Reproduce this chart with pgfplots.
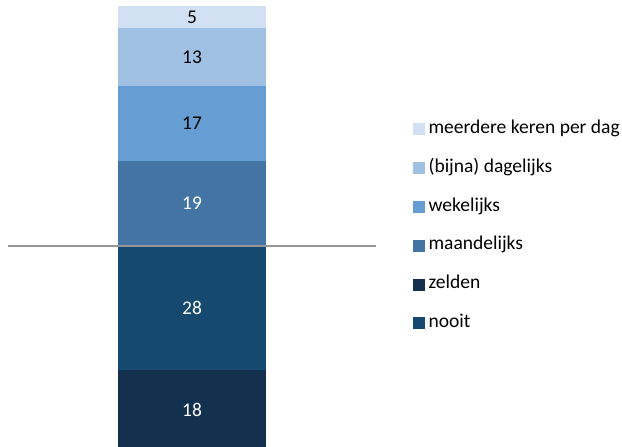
\documentclass[border=0pt]{standalone}
\usepackage{fontspec}
\setmainfont{Carlito}
\usepackage{pgfplots}
\pgfplotsset{compat=1.18}
\definecolor{cMeer}{RGB}{209,224,242}
\definecolor{cBijna}{RGB}{160,192,228}
\definecolor{cWeek}{RGB}{102,158,212}
\definecolor{cMaand}{RGB}{68,116,163}
\definecolor{cNooit}{RGB}{21,73,111}
\definecolor{cZelden}{RGB}{19,48,78}
\begin{document}
\begin{tikzpicture}
\useasboundingbox (0,0) rectangle (622bp,447bp);
\begin{axis}[
  at={(8bp,0bp)}, anchor=south west,
  scale only axis, width=368bp, height=441bp,
  xmin=-1, xmax=1, ymin=0.7, ymax=100,
  hide axis,
  ybar stacked, bar width=0.8,
  /pgf/number format/assume math mode=true,
  nodes near coords,
  every node near coord/.append style={font=\fontsize{19.5}{23}\selectfont, anchor=center},
  legend cell align=left,
  legend image code/.code={\fill[#1] (0bp,-5.5bp) rectangle (11bp,5.5bp);},
  legend style={at={(1.1005,0.501)}, anchor=west, draw=none, fill=none,
    inner sep=0pt, row sep=21.8bp, column sep=4bp,
    nodes={inner sep=0pt, text height=13bp, text depth=4bp,
      font=\fontsize{19.6}{23}\selectfont}},
]
\addplot[fill=cZelden, draw=none, forget plot, every node near coord/.append style={white}] coordinates {(0,18)};
\addplot[fill=cNooit, draw=none, forget plot, every node near coord/.append style={white}] coordinates {(0,28)};
\addplot[fill=cMaand, draw=none, forget plot, every node near coord/.append style={white}] coordinates {(0,19)};
\addplot[fill=cWeek, draw=none, forget plot, every node near coord/.append style={black}] coordinates {(0,17)};
\addplot[fill=cBijna, draw=none, forget plot, every node near coord/.append style={black}] coordinates {(0,13)};
\addplot[fill=cMeer, draw=none, forget plot, every node near coord/.append style={black}] coordinates {(0,5)};
\addlegendimage{cMeer}
\addlegendentry{meerdere keren per dag}
\addlegendimage{cBijna}
\addlegendentry{(bijna) dagelijks}
\addlegendimage{cWeek}
\addlegendentry{wekelijks}
\addlegendimage{cMaand}
\addlegendentry{maandelijks}
\addlegendimage{cZelden}
\addlegendentry{zelden}
\addlegendimage{cNooit}
\addlegendentry{nooit}
\end{axis}
\begin{axis}[
  at={(8bp,0bp)}, anchor=south west,
  scale only axis, width=368bp, height=441bp,
  xmin=-1, xmax=1, ymin=0.7, ymax=100,
  hide axis,
]
\addplot[color={rgb,255:red,150;green,150;blue,150}, line width=1.5bp] coordinates {(-1,46) (1,46)};
\end{axis}
\end{tikzpicture}
\end{document}
